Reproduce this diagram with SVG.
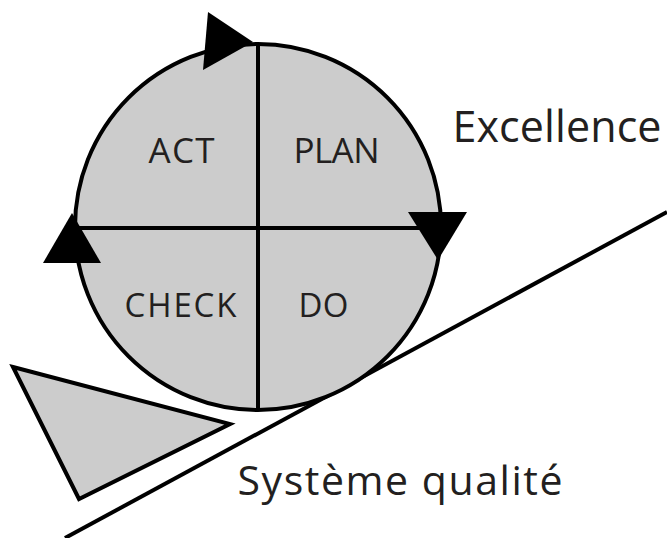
<svg xmlns="http://www.w3.org/2000/svg" width="667" height="538" viewBox="0 0 667 538">
<style>
.shape{fill:#cccccc;stroke:#000;stroke-width:4;stroke-linejoin:miter}
.ln{stroke:#000;stroke-width:4;fill:none}
.head{fill:#000;stroke:none}
.lbl{font-family:"Open Sans","Noto Sans",sans-serif;fill:#231f20;text-anchor:middle}
</style>
<rect width="667" height="538" fill="#fff"/>
<g id="ground">
<line class="ln" x1="65" y1="538" x2="667" y2="212"/>
</g>
<g id="wedge">
<polygon class="shape" points="13,367 230,424 79,499"/>
</g>
<g id="cycle">
<circle class="shape" cx="258" cy="227" r="183"/>
<line class="ln" x1="258" y1="44" x2="258" y2="410"/>
<line class="ln" x1="75" y1="228" x2="441" y2="228"/>
</g>
<g id="connectors">
<polygon class="head" points="208,12 253,42 203,70"/>
<polygon class="head" points="408,212 467,212 438,260"/>
<polygon class="head" points="72,213 101,263 43,263"/>
</g>
<g id="act"><text class="lbl" x="181.5" y="163" font-size="35" textLength="66" lengthAdjust="spacing">ACT</text></g>
<g id="plan"><text class="lbl" x="336.5" y="163" font-size="35" textLength="86" lengthAdjust="spacing">PLAN</text></g>
<g id="check"><text class="lbl" x="180.5" y="317" font-size="33" textLength="112" lengthAdjust="spacing">CHECK</text></g>
<g id="do"><text class="lbl" x="323.5" y="317" font-size="33" textLength="50" lengthAdjust="spacing">DO</text></g>
<g id="excellence"><text class="lbl" x="557" y="142" font-size="43" textLength="209" lengthAdjust="spacing">Excellence</text></g>
<g id="systeme"><text class="lbl" x="400" y="495" font-size="41" textLength="325" lengthAdjust="spacing">Système qualité</text></g>
</svg>
